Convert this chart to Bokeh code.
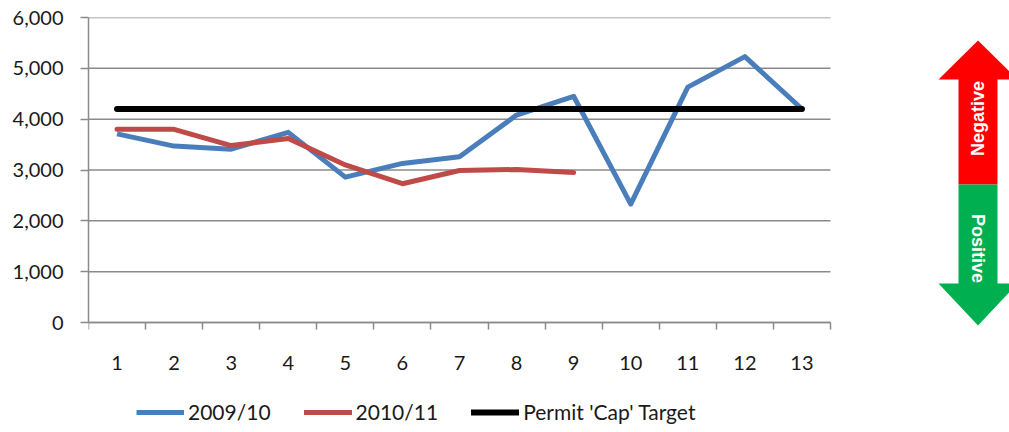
import numpy as np
from bokeh.plotting import figure
from bokeh.models import (Range1d, FixedTicker, NumeralTickFormatter, Legend,
                          LegendItem)
from bokeh.core.properties import value
from bokeh.embed import file_html
from bokeh.resources import INLINE

# ---------------- data ----------------
periods = [1, 2, 3, 4, 5, 6, 7, 8, 9, 10, 11, 12, 13]
tick_labels = ["1", "2", "3", "4", "5", "6", "7", "8", "9", "10", "11", "12", "13"]
series_2009_10 = [3710, 3470, 3410, 3740, 2860, 3130, 3260, 4080, 4450, 2330, 4630, 5230, 4200]
series_2010_11 = [3800, 3800, 3480, 3620, 3100, 2730, 2990, 3010, 2950]
cap_target = [4200] * 13
y_ticks = [0, 1000, 2000, 3000, 4000, 5000, 6000]

BLUE = "#4a7ebb"
RED = "#be4b48"
GRID = "#8a8a8a"
FONT = "Lato"

W, H = 1009, 432
LEFT, TOP = 88, 17            # frame left / top edge in canvas pixels
ZERO_Y = 322                  # canvas row of the value 0
UNIT = (830 - LEFT) / 13.0    # pixels per period
x_end = 0.5 + (W - LEFT) / UNIT
y_start = -6000 * (H - ZERO_Y) / (ZERO_Y - TOP)

p = figure(width=W, height=H, output_backend="svg", toolbar_location=None,
           x_range=Range1d(0.5, x_end), y_range=Range1d(y_start, 6000),
           min_border_left=LEFT, min_border_right=0, min_border_top=TOP,
           min_border_bottom=0)
p.outline_line_color = None

# pixel-like ranges for the decorative arrow
p.extra_x_ranges = {"px": Range1d(LEFT, W)}
p.extra_y_ranges = {"px": Range1d(-H, -TOP)}

# axes
p.xaxis.fixed_location = 0
p.xaxis.bounds = (0.5, 13.5)
p.xaxis.ticker = FixedTicker(ticks=periods,
                             minor_ticks=[x + 0.5 for x in range(0, 14)])
p.xaxis.major_label_overrides = {x: l for x, l in zip(periods, tick_labels)}
p.xaxis.major_tick_out = 0
p.xaxis.major_tick_in = 0
p.xaxis.minor_tick_out = 7
p.xaxis.minor_tick_in = 0
p.xaxis.minor_tick_line_color = GRID
p.xaxis.minor_tick_line_width = 1.5
p.xaxis.major_label_standoff = 26

p.yaxis.bounds = (0, 6000)
p.yaxis.ticker = FixedTicker(ticks=y_ticks)
p.yaxis.formatter = NumeralTickFormatter(format="0,0")
p.yaxis.major_tick_out = 8
p.yaxis.major_tick_in = 0
p.yaxis.minor_tick_out = 0
p.yaxis.minor_tick_in = 0
p.yaxis.major_label_standoff = 17

for ax in (p.xaxis, p.yaxis):
    ax.axis_line_color = GRID
    ax.axis_line_width = 1.5
    ax.major_tick_line_color = GRID
    ax.major_tick_line_width = 1.5
    ax.major_label_text_font = FONT
    ax.major_label_text_font_size = "20px"
    ax.major_label_text_color = "#1a1a1a"

# horizontal gridlines limited to the category area
p.xgrid.visible = False
p.ygrid.visible = False
p.segment(x0=[0.5] * len(y_ticks), x1=[13.5] * len(y_ticks),
          y0=y_ticks, y1=y_ticks, line_color=GRID, line_width=1.5)

# series
r_blue = p.line(periods, series_2009_10, line_color=BLUE, line_width=5,
                line_join="round")
r_red = p.line(periods[:len(series_2010_11)], series_2010_11, line_color=RED,
               line_width=5, line_join="round", line_cap="round")
r_cap = p.line(periods, cap_target, line_color="black", line_width=6,
               line_cap="round")

legend = Legend(items=[LegendItem(label="2009/10", renderers=[r_blue]),
                       LegendItem(label="2010/11", renderers=[r_red]),
                       LegendItem(label="Permit 'Cap' Target", renderers=[r_cap])],
                orientation="horizontal", location=(48, 8),
                border_line_color=None, background_fill_alpha=0,
                padding=0, margin=0, spacing=33, label_standoff=4,
                glyph_width=48, glyph_height=16, label_height=16,
                label_text_font=FONT, label_text_font_size="21px",
                label_text_color="#1a1a1a")
p.add_layout(legend, "center")

# ---------------- arrow (pixel coordinates) ----------------
def Y(v):
    return -v

red_xs = [977.5, 938, 958, 958, 997, 997, 1017]
red_ys = [Y(v) for v in [40, 79, 79, 184, 184, 79, 79]]
green_xs = [958, 997, 997, 1017, 977.5, 938, 958]
green_ys = [Y(v) for v in [184, 184, 283, 283, 325, 283, 283]]
p.patch(red_xs, red_ys, fill_color="#ff0000", line_color=None,
        x_range_name="px", y_range_name="px")
p.patch(green_xs, green_ys, fill_color="#00b050", line_color=None,
        x_range_name="px", y_range_name="px")
p.text(x=[977.5], y=[Y(118)], text=["Negative"], angle=np.pi / 2,
       text_align="center", text_baseline="middle", text_color="white",
       text_font=value("Liberation Sans"), text_font_style="bold",
       text_font_size="18px", x_range_name="px", y_range_name="px")
p.text(x=[977.5], y=[Y(248)], text=["Positive"], angle=-np.pi / 2,
       text_align="center", text_baseline="middle", text_color="white",
       text_font=value("Liberation Sans"), text_font_style="bold",
       text_font_size="18px", x_range_name="px", y_range_name="px")

open("out.html", "w").write(file_html(p, INLINE))
